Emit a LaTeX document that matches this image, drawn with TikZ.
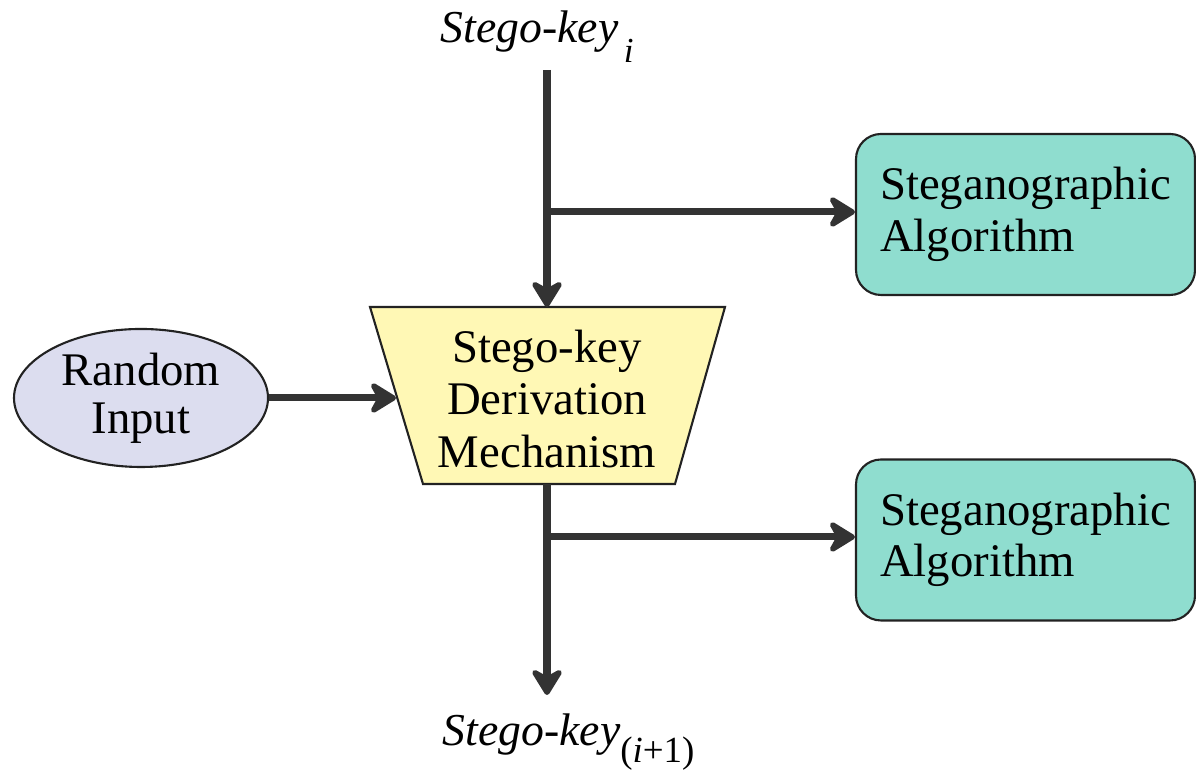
\documentclass[tikz,border=0pt]{standalone}
\usepackage{fontspec}
\setmainfont{Liberation Serif}
\usetikzlibrary{arrows.meta,shapes.geometric}
\definecolor{arrowgray}{HTML}{333333}
\definecolor{tealfill}{HTML}{8FDDCF}
\definecolor{yellowfill}{HTML}{FFF8B5}
\definecolor{lavfill}{HTML}{DCDDEF}
\definecolor{edgecol}{HTML}{222222}
\begin{document}
\begin{tikzpicture}[
  flow/.style={draw=arrowgray, line width=2pt, -{Stealth[length=9pt,width=11pt,inset=3pt,round]}},
  plain/.style={draw=arrowgray, line width=2pt},
  algbox/.style={draw=edgecol, line width=0.6pt, fill=tealfill, rounded corners=0.25cm,
    minimum width=3.39cm, minimum height=1.61cm, align=left,
    font=\fontsize{13.3}{14.6}\selectfont, inner sep=0pt},
  lbl/.style={font=\fontsize{13}{15}\selectfont\itshape, inner sep=0pt, anchor=base west},
  mechshape/.style={draw=edgecol, line width=0.6pt, fill=yellowfill},
  randshape/.style={ellipse, draw=edgecol, line width=0.6pt, fill=lavfill,
    minimum width=2.54cm, minimum height=1.38cm, inner sep=0pt, align=center,
    font=\fontsize{13.3}{13.6}\selectfont},
  mechtext/.style={align=center, inner sep=0pt, font=\fontsize{13.3}{15}\selectfont},
]
\useasboundingbox (0,0) rectangle (11.96,7.75);

% labels
\node[lbl] (k0) at (4.40,7.32) {Stego-key\hspace{0.12em}\raisebox{-0.42em}{\fontsize{10}{10}\selectfont i}};
\node[lbl] (k1) at (4.42,0.29) {Stego-key\raisebox{-0.36em}{\fontsize{10.5}{10.5}\selectfont{\upshape(}i{\upshape+1)}}};

% trapezoid
\coordinate (tl) at (3.70,4.68);
\coordinate (tr) at (7.25,4.68);
\coordinate (br) at (6.75,2.91);
\coordinate (bl) at (4.23,2.91);
\path[mechshape] (tl) -- (tr) -- (br) -- (bl) -- cycle;
\node[mechtext] (mech) at (5.47,3.76) {Stego-key\\Derivation\\Mechanism};

% boxes
\node[algbox] (alg1) at (10.255,5.605) {Steganographic\\Algorithm};
\node[algbox] (alg2) at (10.255,2.35) {Steganographic\\Algorithm};

% ellipse
\node[randshape] (rand) at (1.41,3.77) {Random\\Input};

% coordinates
\coordinate (top) at (5.47,7.05);
\coordinate (j1) at (5.47,5.63);
\coordinate (tmid) at (5.47,4.68);
\coordinate (lmid) at (3.96,3.77);
\coordinate (bmid) at (5.47,2.91);
\coordinate (j2) at (5.47,2.38);
\coordinate (bot) at (5.47,0.80);

% connectors
\draw[plain] (top) -- (j1);
\draw[flow] (j1) -- (tmid);
\draw[flow] (j1) -- (j1 -| alg1.west);
\draw[flow] (rand.east) -- (lmid);
\draw[plain] (bmid) -- (j2);
\draw[flow] (j2) -- (bot);
\draw[flow] (j2) -- (j2 -| alg2.west);
\end{tikzpicture}
\end{document}
